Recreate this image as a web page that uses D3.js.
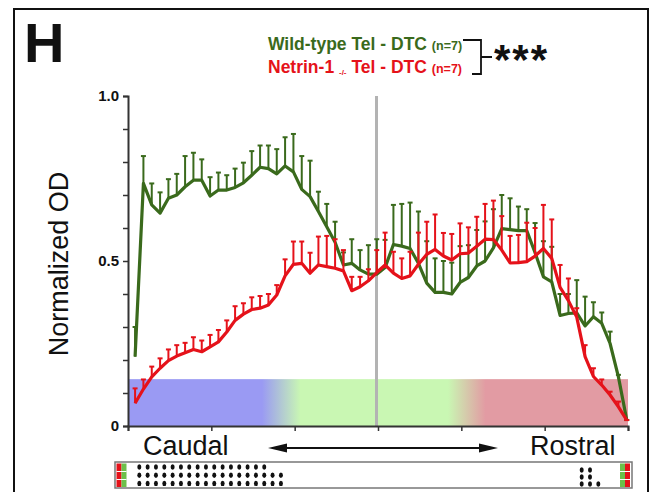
<!DOCTYPE html>
<html>
<head>
<meta charset="utf-8">
<script src="https://cdn.jsdelivr.net/npm/d3@7"></script>
<style>
  body { margin: 0; background: #fff; }
  svg { display: block; font-family: Arial, "Liberation Sans", sans-serif; }
</style>
</head>
<body>
<script>
// normalized OD along the caudal -> rostral axis, 60 bins
var wtMean = [0.21,0.735,0.67,0.645,0.69,0.70,0.725,0.745,0.745,0.697,
  0.715,0.715,0.723,0.737,0.76,0.784,0.78,0.764,0.788,0.77,
  0.717,0.695,0.65,0.604,0.557,0.488,0.493,0.473,0.46,0.46,
  0.48,0.55,0.545,0.538,0.493,0.433,0.405,0.405,0.40,0.435,
  0.45,0.485,0.50,0.54,0.598,0.595,0.592,0.592,0.525,0.452,
  0.437,0.335,0.341,0.343,0.303,0.331,0.311,0.25,0.149,0.018];
var wtUpper = [0.30,0.818,0.735,0.708,0.748,0.764,0.818,0.828,0.808,0.754,
  0.768,0.76,0.78,0.798,0.833,0.85,0.85,0.839,0.875,0.885,
  0.818,0.804,0.71,0.673,0.619,0.526,0.566,0.533,0.548,0.566,
  0.564,0.67,0.673,0.677,0.65,0.56,0.508,0.50,0.495,0.545,
  0.548,0.594,0.62,0.657,0.70,0.69,0.665,0.657,0.615,0.56,
  0.543,0.40,0.40,0.442,0.392,0.375,0.344,0.286,0.155,0.018];
var koMean = [0.069,0.112,0.149,0.175,0.198,0.212,0.222,0.232,0.225,0.24,
  0.255,0.285,0.32,0.339,0.353,0.357,0.367,0.397,0.455,0.49,
  0.493,0.463,0.488,0.483,0.478,0.47,0.41,0.422,0.44,0.465,
  0.488,0.463,0.447,0.455,0.49,0.52,0.535,0.515,0.503,0.522,
  0.524,0.545,0.566,0.565,0.533,0.494,0.495,0.498,0.515,0.538,
  0.508,0.42,0.38,0.33,0.21,0.15,0.124,0.094,0.058,0.018];
var koUpper = [0.114,0.141,0.18,0.205,0.232,0.245,0.252,0.269,0.259,0.276,
  0.291,0.32,0.363,0.372,0.39,0.394,0.40,0.427,0.505,0.559,
  0.559,0.525,0.574,0.576,0.566,0.533,0.452,0.452,0.475,0.533,
  0.586,0.528,0.508,0.528,0.586,0.619,0.641,0.585,0.582,0.614,
  0.602,0.634,0.673,0.683,0.636,0.576,0.579,0.616,0.60,0.67,
  0.626,0.488,0.447,0.357,0.245,0.175,0.141,0.104,0.074,0.018];

var yTicks = [0,0.1,0.2,0.3,0.4,0.5,0.6,0.7,0.8,0.9,1.0];
var yLabels = {0:"0", 0.5:"0.5", 1:"1.0"};
var xTicks = [0,10,20,30,40,50,60];
var legendNames = ["Wild-type Tel - DTC", "Netrin-1", "Tel - DTC"];
var leftDotRows = [16, 18, 18];
var rightDotCols = [3, 3, 1];

var width = 655,
    height = 492;

var green = "#3a6a1c",
    red = "#e5121a";

var svg = d3.select("body").append("svg")
    .attr("width", width)
    .attr("height", height);

// outer frame
svg.append("rect")
    .attr("x", 14).attr("y", 9)
    .attr("width", 634).attr("height", 520)
    .attr("fill", "none")
    .attr("stroke", "#111")
    .attr("stroke-width", 2);

var x = d3.scaleLinear().domain([0, 60]).range([128, 628]);
var y = d3.scaleLinear().domain([0, 1]).range([426, 96]);
function px(i) { return x(i + 0.85); }

// colour band
var grad = svg.append("defs").append("linearGradient")
    .attr("id", "band")
    .attr("gradientUnits", "userSpaceOnUse")
    .attr("x1", x(0)).attr("x2", x(60)).attr("y1", 0).attr("y2", 0);
[[0, "#9a9af3"], [0.268, "#9a9af3"], [0.345, "#c9f7b3"], [0.64, "#c9f7b3"], [0.715, "#e29ba3"], [1, "#e29ba3"]]
  .forEach(function(s) {
    grad.append("stop").attr("offset", s[0]).attr("stop-color", s[1]);
  });

svg.append("rect")
    .attr("x", x(0)).attr("y", y(0.142))
    .attr("width", x(60) - x(0)).attr("height", y(0) - y(0.142))
    .attr("fill", "url(#band)");

// midline
svg.append("line")
    .attr("x1", x(30) - 1.5).attr("x2", x(30) - 1.5)
    .attr("y1", y(1)).attr("y2", y(0))
    .attr("stroke", "#b3b3b3")
    .attr("stroke-width", 3);

// axes
var yAxis = svg.append("g")
    .attr("transform", "translate(" + x(0) + ",0)")
    .call(d3.axisLeft(y).tickValues(yTicks).tickSize(5)
      .tickFormat(function(d) { return yLabels[d] || ""; }));
yAxis.select(".domain").attr("stroke", "#333").attr("stroke-width", 2);
yAxis.selectAll(".tick line").attr("stroke", "#333").attr("stroke-width", 1.5);
yAxis.selectAll(".tick text")
    .attr("font-size", 15).attr("font-weight", "bold")
    .attr("font-family", "Arial, 'Liberation Sans', sans-serif")
    .attr("fill", "#111").attr("x", -9);

var xAxis = svg.append("g")
    .attr("transform", "translate(0," + y(0) + ")")
    .call(d3.axisBottom(x).tickValues(xTicks).tickSize(5).tickFormat(""));
xAxis.select(".domain").attr("stroke", "#333").attr("stroke-width", 2);
xAxis.selectAll(".tick line").attr("stroke", "#333").attr("stroke-width", 1.5);

svg.append("text")
    .attr("transform", "translate(68,264) rotate(-90)")
    .attr("text-anchor", "middle")
    .attr("font-size", 27)
    .attr("fill", "#111")
    .text("Normalized OD");

// series
function drawSeries(mean, upper, col) {
  var g = svg.append("g");
  g.selectAll("line.bar").data(mean).enter().append("line")
      .attr("x1", function(d, i) { return px(i); })
      .attr("x2", function(d, i) { return px(i); })
      .attr("y1", function(d) { return y(d); })
      .attr("y2", function(d, i) { return y(upper[i]); })
      .attr("stroke", col).attr("stroke-width", 2);
  g.selectAll("line.cap").data(upper).enter().append("line")
      .attr("x1", function(d, i) { return px(i) - 2.5; })
      .attr("x2", function(d, i) { return px(i) + 2.5; })
      .attr("y1", function(d) { return y(d); })
      .attr("y2", function(d) { return y(d); })
      .attr("stroke", col).attr("stroke-width", 2);
  g.append("path")
      .datum(mean)
      .attr("fill", "none")
      .attr("stroke", col)
      .attr("stroke-width", 3.2)
      .attr("stroke-linejoin", "round")
      .attr("d", d3.line().x(function(d, i) { return px(i); }).y(function(d) { return y(d); }));
}
drawSeries(wtMean, wtUpper, green);
drawSeries(koMean, koUpper, red);

// panel letter
svg.append("text")
    .attr("x", 24).attr("y", 62)
    .attr("font-size", 56).attr("font-weight", "bold")
    .attr("fill", "#111")
    .text("H");

// legend
var l1 = svg.append("text").attr("x", 268).attr("y", 50)
    .attr("font-weight", "bold").attr("fill", green);
l1.append("tspan").attr("font-size", 17.5).text(legendNames[0] + " ");
l1.append("tspan").attr("font-size", 12.5).text("(n=7)");

var l2 = svg.append("text").attr("x", 268).attr("y", 73)
    .attr("font-weight", "bold").attr("fill", red);
l2.append("tspan").attr("font-size", 17.5).text(legendNames[1] + " ");
l2.append("tspan").attr("font-size", 8).attr("dy", 2).text("-/-");
l2.append("tspan").attr("font-size", 17.5).attr("dy", -2).text(" " + legendNames[2] + " ");
l2.append("tspan").attr("font-size", 12.5).text("(n=7)");

svg.append("path")
    .attr("d", "M463,40 H481 V74 H472 M481,57 H492")
    .attr("fill", "none").attr("stroke", "#111").attr("stroke-width", 1.8);

svg.append("text")
    .attr("x", 494).attr("y", 74)
    .attr("font-size", 42).attr("font-weight", "bold")
    .attr("letter-spacing", 2)
    .attr("fill", "#111")
    .text("***");

// direction labels and arrow
svg.append("text").attr("x", 143).attr("y", 455)
    .attr("font-size", 27).attr("fill", "#111").text("Caudal");
svg.append("text").attr("x", 530).attr("y", 455)
    .attr("font-size", 27).attr("fill", "#111").text("Rostral");

svg.append("line")
    .attr("x1", 280).attr("x2", 486).attr("y1", 448).attr("y2", 448)
    .attr("stroke", "#111").attr("stroke-width", 2);
svg.append("path").attr("d", "M268,448 L287,443.5 L287,452.5 Z").attr("fill", "#111");
svg.append("path").attr("d", "M498,448 L479,443.5 L479,452.5 Z").attr("fill", "#111");

// bottom strip with dot rows
svg.append("rect")
    .attr("x", 115).attr("y", 462).attr("width", 517).attr("height", 26)
    .attr("fill", "#fff").attr("stroke", "#777").attr("stroke-width", 1.5);

function stripes(x0, cols) {
  cols.forEach(function(c, k) {
    svg.append("rect").attr("x", x0 + k * 5).attr("y", 463.5)
        .attr("width", 5).attr("height", 23.5).attr("fill", c);
  });
  [471.5, 479.5].forEach(function(yy) {
    svg.append("line").attr("x1", x0).attr("x2", x0 + 10)
        .attr("y1", yy).attr("y2", yy)
        .attr("stroke", "#fff").attr("stroke-width", 1);
  });
}
stripes(116.5, [red, "#6cc04a"]);
stripes(620, ["#6cc04a", red]);

leftDotRows.forEach(function(n, r) {
  svg.append("g").selectAll("ellipse").data(d3.range(n)).enter().append("ellipse")
      .attr("cx", function(d) { return 139.3 + d * 8.33; })
      .attr("cy", 467 + r * 8.2)
      .attr("rx", 2).attr("ry", 2.7)
      .attr("fill", "#111");
});
rightDotCols.forEach(function(n, c) {
  svg.append("g").selectAll("ellipse").data(d3.range(n)).enter().append("ellipse")
      .attr("cx", 581.7 + c * 8.3)
      .attr("cy", function(d) { return 484 - d * 7; })
      .attr("rx", 2).attr("ry", 2.7)
      .attr("fill", "#111");
});
</script>
</body>
</html>
